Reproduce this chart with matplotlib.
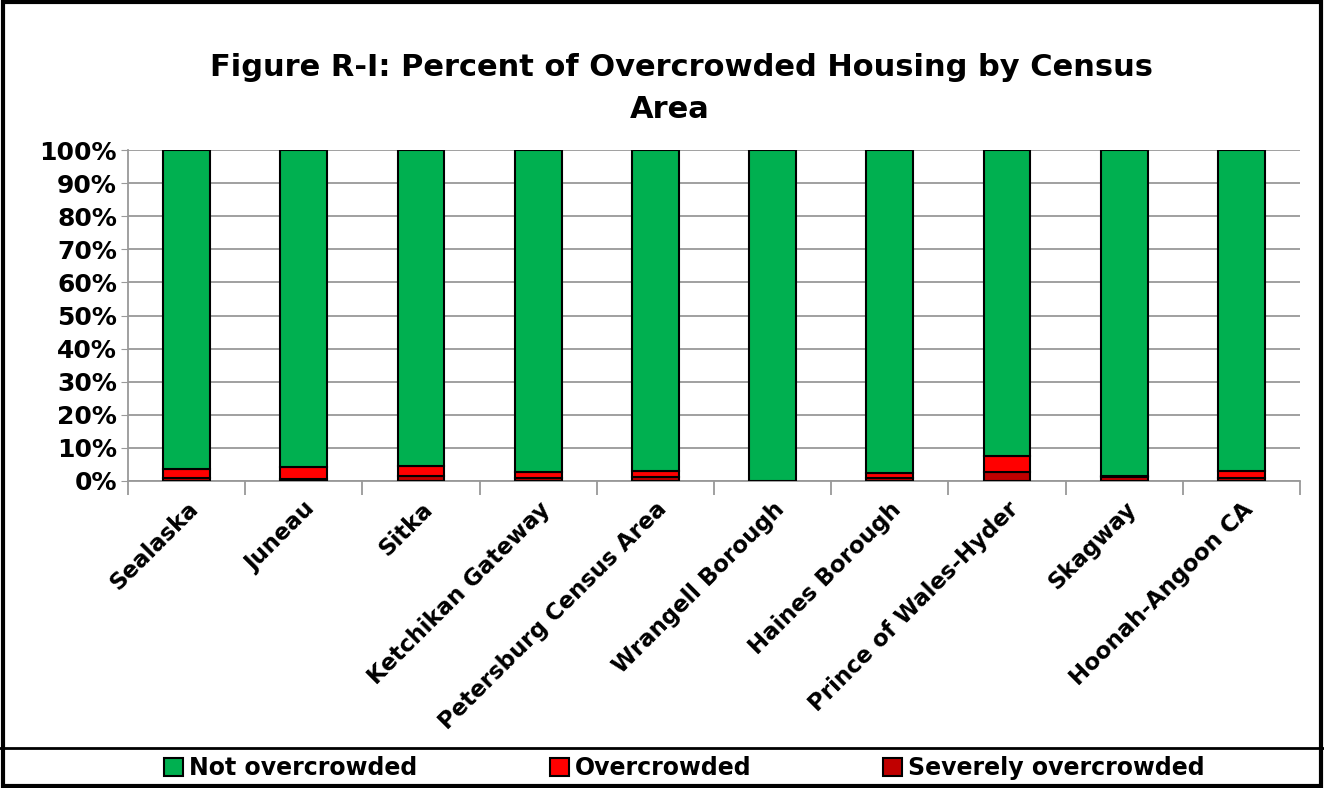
import numpy as np
import matplotlib.pyplot as plt
from matplotlib.patches import Rectangle

# Data (percent of housing units)
areas = ['Sealaska', 'Juneau', 'Sitka', 'Ketchikan Gateway', 'Petersburg Census Area',
         'Wrangell Borough', 'Haines Borough', 'Prince of Wales-Hyder', 'Skagway',
         'Hoonah-Angoon CA']
severe = [0.8, 0.6, 1.4, 0.8, 1.3, 0.0, 0.9, 2.7, 1.3, 0.8]
overcrowded = [2.9, 3.7, 3.0, 1.8, 1.8, 0.0, 1.4, 4.8, 0.3, 2.2]
not_over = [100 - s - o for s, o in zip(severe, overcrowded)]

green = '#00B050'
red = '#FF0000'
darkred = '#C00000'

plt.rcParams['font.family'] = 'DejaVu Sans'
plt.rcParams['font.weight'] = 'bold'

fig = plt.figure(figsize=(13.24, 7.88), dpi=100)
ax = fig.add_axes([128 / 1324, 1 - 481 / 788, 1172 / 1324, 331 / 788])

x = np.arange(len(areas))
w = 0.4
ax.bar(x, severe, w, color=darkred, edgecolor='black', linewidth=1.5, label='Severely overcrowded', zorder=3)
ax.bar(x, overcrowded, w, bottom=severe, color=red, edgecolor='black', linewidth=1.5,
       label='Overcrowded', zorder=3)
bottom2 = [s + o for s, o in zip(severe, overcrowded)]
ax.bar(x, not_over, w, bottom=bottom2, color=green, edgecolor='black', linewidth=1.5,
       label='Not overcrowded', zorder=3)

ax.set_xlim(-0.5, len(areas) - 0.5)
ax.set_ylim(0, 100)
ax.set_yticks(range(0, 101, 10))
ax.set_yticklabels([f'{v}%' for v in range(0, 101, 10)], fontsize=18, fontweight='bold')
ax.yaxis.grid(True, color='#999999', linewidth=1.3)
ax.set_axisbelow(True)
ax.tick_params(axis='y', length=5, color='#999999', pad=3)

# category boundary ticks on x axis
ax.set_xticks(np.arange(-0.5, len(areas), 1.0))
ax.set_xticklabels([])
ax.tick_params(axis='x', length=10, color='#999999', width=1.3)
ax.set_xticks(x, minor=True)
ax.set_xticklabels(areas, minor=True, rotation=45, ha='right', rotation_mode='anchor',
                   fontsize=16.5, fontweight='bold')
ax.tick_params(axis='x', which='minor', length=0, pad=12)

for side in ['top', 'right']:
    ax.spines[side].set_visible(False)
for side in ['left', 'bottom']:
    ax.spines[side].set_color('#999999')
    ax.spines[side].set_linewidth(1.3)

fig.text(682 / 1324, 1 - 68 / 788, 'Figure R-I: Percent of Overcrowded Housing by Census',
         ha='center', va='center', fontsize=22, fontweight='bold')
fig.text(670 / 1324, 1 - 110 / 788, 'Area', ha='center', va='center', fontsize=22, fontweight='bold')

# outer border and legend box
fig.patches.append(Rectangle((0.002, 0.002), 0.996, 0.996, transform=fig.transFigure,
                             fill=False, edgecolor='black', linewidth=3))
fig.lines.append(plt.Line2D([0, 1], [1 - 748 / 788, 1 - 748 / 788], transform=fig.transFigure,
                            color='black', linewidth=2))

handles, labels = ax.get_legend_handles_labels()
leg = fig.legend(handles[::-1], labels[::-1], loc='center', bbox_to_anchor=(0.517, 1 - 768 / 788),
                 ncol=3, frameon=False, fontsize=17, columnspacing=5.6, handlelength=0.8,
                 handleheight=0.8, handletextpad=0.25)
for t in leg.get_texts():
    t.set_fontweight('bold')

fig.savefig('out.png', dpi=100)
